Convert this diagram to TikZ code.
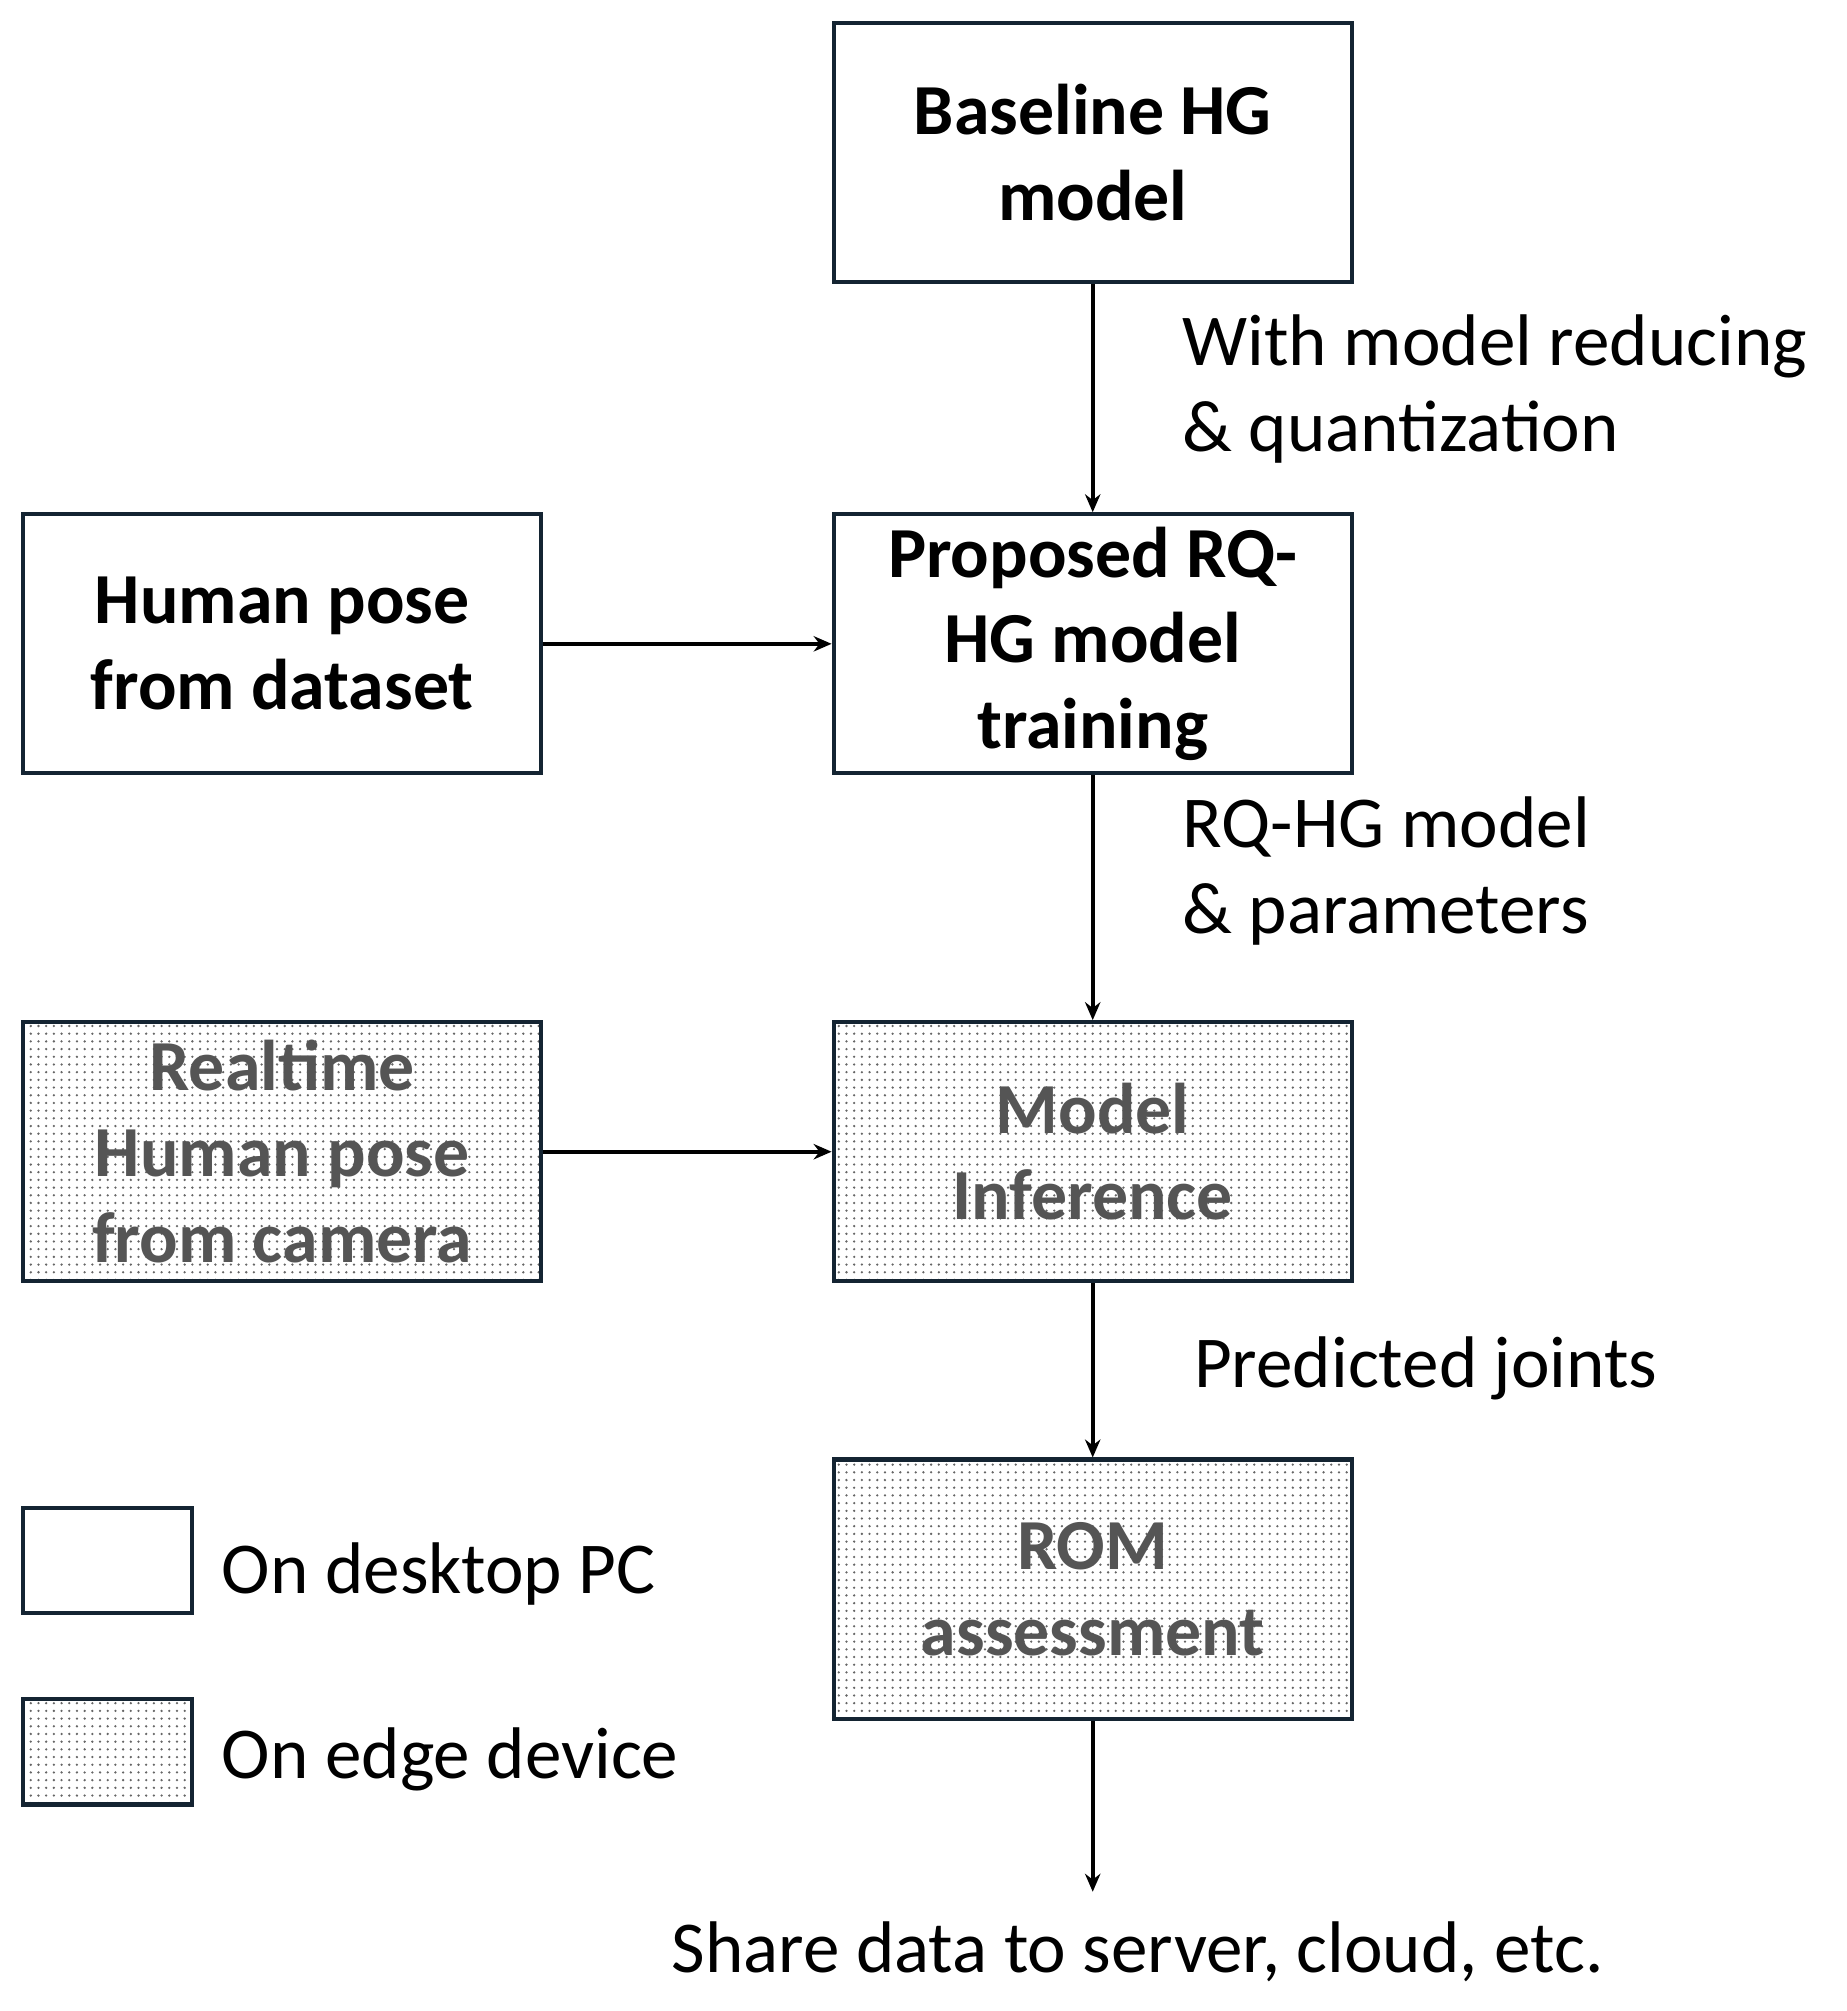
\documentclass[tikz,border=0pt]{standalone}
\usepackage{fontspec}
\setmainfont{Carlito}
\definecolor{boxline}{RGB}{20,36,50}
\definecolor{edgetext}{RGB}{85,85,85}
\usetikzlibrary{patterns}
\usetikzlibrary{arrows.meta}
\tikzset{
  stage/.style={draw=boxline, line width=1.6pt, minimum width=202pt, minimum height=101pt,
    align=center, font=\fontsize{28}{33.5}\selectfont\bfseries},
  edge/.style={stage, pattern=dots, pattern color=black!60, text=edgetext},
  legend/.style={draw=boxline, line width=1.6pt, minimum width=66pt, minimum height=41pt},
  note/.style={font=\fontsize{28.5}{33.5}\selectfont, align=left, anchor=west},
  flow/.style={-{Stealth[length=7pt,width=6pt]}, line width=1.5pt},
}
\begin{document}
\begin{tikzpicture}[x=0.5pt,y=-0.5pt]
  \useasboundingbox (0,0) rectangle (1440,1568);

  \node [stage] (baseline) at (852,119) {Baseline HG\\model};
  \node [stage] (dataset) at (220,502) {Human pose\\from dataset};
  \node [stage] (training) at (852,502) {Proposed RQ-\\HG model\\training};
  \node [edge] (camera) at (220,898) {Realtime\\Human pose\\from camera};
  \node [edge] (inference) at (852,898) {Model\\Inference};
  \node [edge] (rom) at (852,1239) {ROM\\assessment};
  \node (share) at (887,1522) [font=\fontsize{28.5}{33.5}\selectfont] {Share data to server, cloud, etc.};
  \coordinate (shareend) at (852,1475);

  \draw [flow] (baseline) -- (training);
  \draw [flow] (dataset) -- (training);
  \draw [flow] (training) -- (inference);
  \draw [flow] (camera) -- (inference);
  \draw [flow] (inference) -- (rom);
  \draw [flow] (rom) -- (shareend);

  \node [note] (reduce) at (915,303) {With model reducing\\\& quantization};
  \node [note] (params) at (915,679) {RQ-HG model\\\& parameters};
  \node [note] (joints) at (924,1067) {Predicted joints};

  % legend
  \node [legend] (pc) at (84,1217) {};
  \node [legend, pattern=dots, pattern color=black!60] (device) at (84,1366) {};
  \node [note] (pclabel) at (166,1227) {On desktop PC};
  \node [note] (devicelabel) at (166,1372) {On edge device};
\end{tikzpicture}
\end{document}
